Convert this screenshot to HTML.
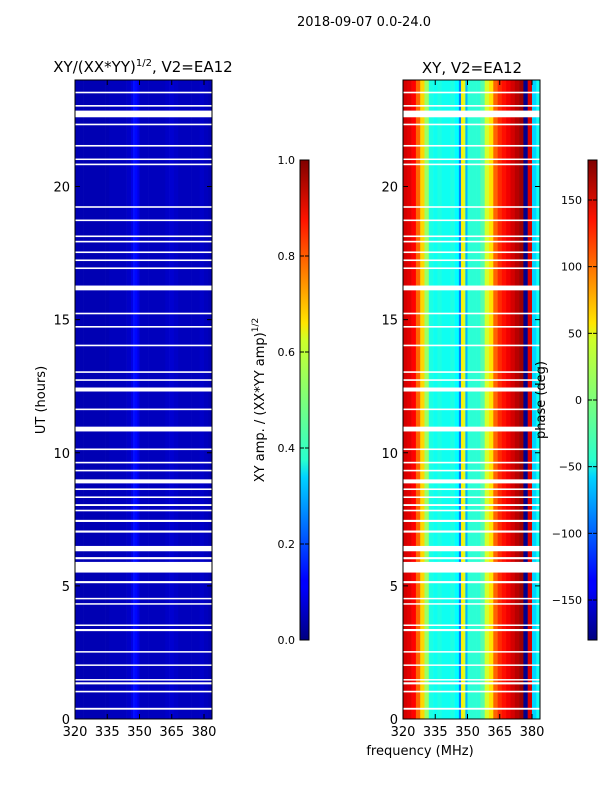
<!DOCTYPE html>
<html><head><meta charset="utf-8"><style>
body{margin:0;background:#fff;}
svg text{font-family:"DejaVu Sans","Liberation Sans",sans-serif;fill:#000;}
</style></head><body>
<svg id="fig" width="600" height="800" xmlns="http://www.w3.org/2000/svg">
<defs>
<linearGradient id="jet" x1="0" y1="1" x2="0" y2="0">
<stop offset="0" stop-color="#000080"/><stop offset="0.11" stop-color="#0000ff"/>
<stop offset="0.125" stop-color="#0000ff"/><stop offset="0.34" stop-color="#00d4ff"/>
<stop offset="0.375" stop-color="#29ffce"/><stop offset="0.5" stop-color="#7dff7a"/>
<stop offset="0.625" stop-color="#ceff29"/><stop offset="0.66" stop-color="#ffe500"/>
<stop offset="0.875" stop-color="#ff1300"/><stop offset="1" stop-color="#800000"/>
</linearGradient>
</defs>
<text x="364" y="26" font-size="13" text-anchor="middle">2018-09-07 0.0-24.0</text>
<text x="143" y="72" font-size="15" text-anchor="middle">XY/(XX*YY)<tspan font-size="10" dy="-6">1/2</tspan><tspan dy="6">, V2=EA12</tspan></text>
<text x="472" y="73" font-size="15" text-anchor="middle">XY, V2=EA12</text>
<g id="ampPanel"></g>
<g id="phPanel"></g>
<text transform="translate(45,400) rotate(-90)" font-size="13" text-anchor="middle">UT (hours)</text>
<text x="420" y="755" font-size="13" text-anchor="middle">frequency (MHz)</text>
<rect x="300" y="160" width="9" height="480" fill="url(#jet)" stroke="#000"/>
<rect x="588" y="160" width="9" height="480" fill="url(#jet)" stroke="#000"/>
<text transform="translate(264,400) rotate(-90)" font-size="13" text-anchor="middle">XY amp. / (XX*YY amp)<tspan font-size="9" dy="-6">1/2</tspan></text>
<text transform="translate(545,400) rotate(-90)" font-size="13" text-anchor="middle">phase (deg)</text>
<g id="cbTicks"></g>
</svg>
<script>
const freqEdges=[320,322,324,326,328,330,332,334,336,338,340,342,344,346,347,348,349,350,352,354,356,358,360,362,364,366,368,370,372,374,376,378,380,382,384];
const phaseVals=[150,145,135,100,60,10,-35,-40,-35,-40,-40,-35,-45,-90,50,30,-70,-30,-30,-30,-15,30,55,100,120,130,140,150,160,170,-175,150,-60,-40];
const ampVals=[0.05,0.05,0.05,0.05,0.05,0.05,0.05,0.05,0.06,0.06,0.06,0.06,0.07,0.1,0.14,0.13,0.1,0.06,0.06,0.06,0.06,0.06,0.06,0.07,0.08,0.07,0.06,0.06,0.06,0.06,0.06,0.07,0.06,0.05];
const flags=[[0.35,0.42],[1.0,1.06],[1.3,1.38],[1.45,1.5],[2.0,2.05],[2.5,2.55],[3.3,3.38],[3.5,3.55],[4.3,4.35],[4.5,4.55],[5.1,5.18],[5.5,5.9],[6.0,6.08],[6.3,6.5],[7.0,7.08],[7.4,7.48],[7.8,7.86],[8.0,8.07],[8.3,8.36],[8.6,8.66],[8.85,9.0],[9.3,9.36],[9.6,9.66],[10.1,10.16],[10.8,10.98],[11.6,11.66],[12.3,12.45],[12.7,12.76],[13.0,13.06],[14.0,14.06],[14.7,14.76],[15.2,15.26],[16.1,16.28],[16.9,16.96],[17.2,17.26],[17.5,17.56],[17.9,17.96],[18.1,18.16],[18.7,18.76],[19.2,19.26],[20.8,20.86],[21.0,21.05],[21.5,21.56],[22.3,22.36],[22.6,22.85],[23.0,23.06],[23.5,23.56]];
const xTicks=[320,335,350,365,380];
const yTicks=[0,5,10,15,20];
const ampTicks=[0.0,0.2,0.4,0.6,0.8,1.0];
const phTicks=[-150,-100,-50,0,50,100,150];

const NS="http://www.w3.org/2000/svg";
const svg=document.getElementById('fig');
function jet(v){v=Math.max(0,Math.min(1,v));
 const f=(x)=>Math.max(0,Math.min(1,1.5-Math.abs(4*v-x)));
 return `rgb(${Math.round(255*f(3))},${Math.round(255*f(2))},${Math.round(255*f(1))})`;}
function mk(tag,attrs,parent){const e=document.createElementNS(NS,tag);for(const k in attrs)e.setAttribute(k,attrs[k]);parent.appendChild(e);return e;}
const yScale=h=>719-(h/24)*639;
function drawPanel(gid,x0,vals,norm,name){
 const g=document.getElementById(gid);
 const xs=f=>x0+(f-320)*2.15;
 for(let i=0;i<vals.length;i++){
  const a=xs(freqEdges[i]),b=xs(Math.min(freqEdges[i+1],383.7));
  const r=mk('rect',{x:a,y:80,width:Math.max(0,b-a)+0.3,height:639,fill:jet(norm(vals[i]))},g);
  
  
 }
 flags.forEach(fl=>{
  const r=mk('rect',{x:x0,y:yScale(fl[1]),width:137,height:Math.max(1.5,yScale(fl[0])-yScale(fl[1])),fill:'#fff'},g);
  
  
 });
 mk('rect',{x:x0,y:80,width:137,height:639,fill:'none',stroke:'#000'},g);
 xTicks.forEach(t=>{const x=xs(t);
  mk('line',{x1:x,y1:719,x2:x,y2:714,stroke:'#000'},g);mk('line',{x1:x,y1:80,x2:x,y2:85,stroke:'#000'},g);
  const tx=mk('text',{x:x,y:736,'font-size':13,'text-anchor':'middle'},g);tx.textContent=t;
  
  });
 yTicks.forEach(t=>{const y=yScale(t);
  mk('line',{x1:x0,y1:y,x2:x0+5,y2:y,stroke:'#000'},g);mk('line',{x1:x0+137,y1:y,x2:x0+132,y2:y,stroke:'#000'},g);
  const tx=mk('text',{x:x0-5,y:y+5,'font-size':13,'text-anchor':'end'},g);tx.textContent=t;
  
  });
}
drawPanel('ampPanel',75,ampVals,v=>v,'amp');
drawPanel('phPanel',403,phaseVals,v=>(v+180)/360,'phase');
const cg=document.getElementById('cbTicks');
ampTicks.forEach(t=>{const y=640-t*480;
 mk('line',{x1:300,y1:y,x2:304,y2:y,stroke:'#000'},cg);mk('line',{x1:309,y1:y,x2:305,y2:y,stroke:'#000'},cg);
 const tx=mk('text',{x:295,y:y+4,'font-size':11,'text-anchor':'end'},cg);tx.textContent=t.toFixed(1);
 
 });
phTicks.forEach(t=>{const y=640-(t+180)/360*480;
 mk('line',{x1:588,y1:y,x2:592,y2:y,stroke:'#000'},cg);mk('line',{x1:597,y1:y,x2:593,y2:y,stroke:'#000'},cg);
 const tx=mk('text',{x:582,y:y+4,'font-size':11,'text-anchor':'end'},cg);tx.textContent=(t<0?'\u2212'+(-t):t);
 
 });
</script>
</body></html>
